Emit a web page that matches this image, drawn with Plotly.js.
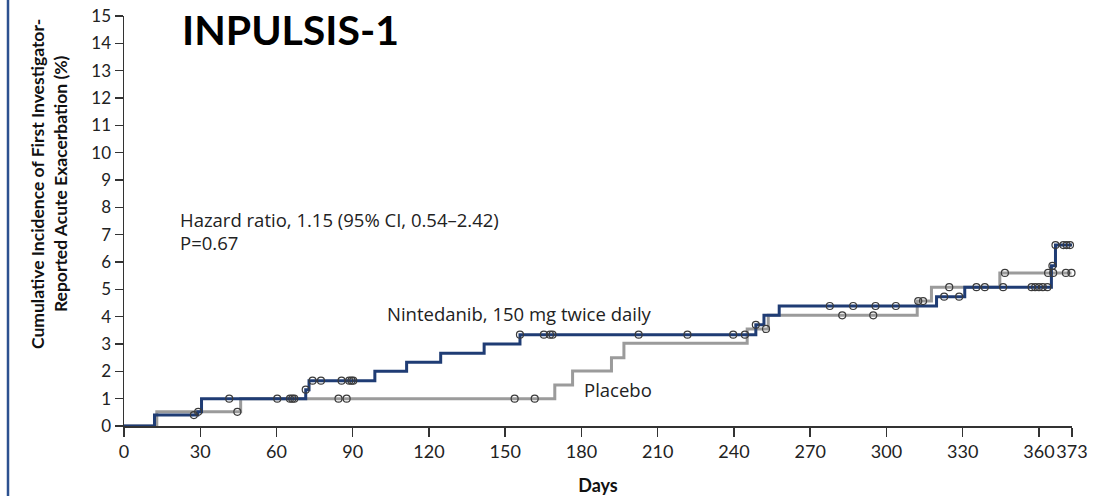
<!DOCTYPE html>
<html>
<head>
<meta charset="utf-8">
<script src="https://cdn.plot.ly/plotly-3.0.1.min.js"></script>
<style>
  html, body { margin: 0; padding: 0; background: #fff; }
  #chart { width: 1095px; height: 496px; }
</style>
</head>
<body>
<div id="chart"></div>
<script>
// Kaplan-Meier style cumulative incidence, INPULSIS-1
const nintedanibDays   = [0, 12, 29, 30.5, 71.5, 72.8, 98.7, 111.2, 124.6, 141.7, 155.8, 248.6, 251.8, 257.8, 319.7, 330.8, 364.9, 366.5, 373.6];
const nintedanibPct    = [0, 0.4, 0.52, 1.0, 1.33, 1.66, 2.0, 2.33, 2.66, 3.0, 3.34, 3.7, 4.05, 4.39, 4.73, 5.08, 5.86, 6.62, 6.62];
const placeboDays      = [0, 12.9, 45.9, 169.5, 176.5, 191.8, 196.7, 245.2, 253.5, 312.1, 317.7, 344.6, 372.8];
const placeboPct       = [0, 0.52, 1.0, 1.5, 2.01, 2.5, 3.03, 3.55, 4.05, 4.57, 5.08, 5.6, 5.6];

// censored observations
const nintedanibCensorDays = [27.5, 29.2, 41.4, 60.3, 65.3, 66.2, 67, 71.5, 74.2, 77.5, 85.6, 88.6, 89.5, 90.2,
  155.8, 165.2, 167.6, 168.6, 202.5, 221.7, 239.7, 244.3, 248.6, 277.7, 286.9, 295.7, 303.7,
  322.7, 328.6, 335.4, 338.7, 345.9, 357.1, 358.5, 360, 361.5, 363.3, 365.3, 366.5, 369.6, 370.9, 372.2, 373.6];
const nintedanibCensorPct  = [0.4, 0.52, 1.0, 1.0, 1.0, 1.0, 1.0, 1.33, 1.66, 1.66, 1.66, 1.66, 1.66, 1.66,
  3.34, 3.34, 3.34, 3.34, 3.34, 3.34, 3.34, 3.34, 3.7, 4.39, 4.39, 4.39, 4.39,
  4.73, 4.73, 5.08, 5.08, 5.08, 5.08, 5.08, 5.08, 5.08, 5.08, 5.86, 6.62, 6.62, 6.62, 6.62, 6.62];
const placeboCensorDays = [44.6, 84.4, 87.6, 153.7, 161.6, 252.6, 282.6, 294.8, 312.5, 314.4, 324.7, 346.6, 363.6, 365.6, 370.6, 372.8];
const placeboCensorPct  = [0.52, 1.0, 1.0, 1.0, 1.0, 3.55, 4.05, 4.05, 4.57, 4.57, 5.08, 5.6, 5.6, 5.6, 5.6, 5.6];

const xTicks = [0, 30, 60, 90, 120, 150, 180, 210, 240, 270, 300, 330, 360, 373];
const yTicks = [0, 1, 2, 3, 4, 5, 6, 7, 8, 9, 10, 11, 12, 13, 14, 15];

const BLUE = '#1f3c74';
const GREY = '#9b9b9b';
const TICK_FONT = 'Lato, "Open Sans", sans-serif';
const LABEL_FONT = '"Open Sans", Lato, sans-serif';

const censorMarker = {
  symbol: 'circle-open', size: 7, color: '#3a3a3a', line: { width: 1.2, color: '#3a3a3a' }
};

const traces = [
  { x: placeboDays, y: placeboPct, type: 'scatter', mode: 'lines', line: { shape: 'hv', color: GREY, width: 3 },
    name: 'Placebo', hoverinfo: 'x+y' },
  { x: nintedanibDays, y: nintedanibPct, type: 'scatter', mode: 'lines', line: { shape: 'hv', color: BLUE, width: 3 },
    name: 'Nintedanib', hoverinfo: 'x+y' },
  { x: placeboCensorDays, y: placeboCensorPct, type: 'scatter', mode: 'markers', marker: censorMarker,
    cliponaxis: false, name: 'Placebo censored' },
  { x: nintedanibCensorDays, y: nintedanibCensorPct, type: 'scatter', mode: 'markers', marker: censorMarker,
    cliponaxis: false, name: 'Nintedanib censored' }
];

const noteFont = { family: LABEL_FONT, size: 18.5, color: '#222' };

const layout = {
  width: 1095, height: 496,
  margin: { l: 124, r: 23, t: 16, b: 70 },
  paper_bgcolor: '#ffffff', plot_bgcolor: '#ffffff',
  showlegend: false,
  font: { family: TICK_FONT, color: '#222', size: 16 },
  xaxis: {
    range: [0, 373], tickvals: xTicks, ticktext: xTicks.map(String), tickangle: 0,
    showgrid: false, zeroline: false, showline: true, linecolor: '#333', linewidth: 1.5,
    ticks: 'outside', ticklen: 9, tickwidth: 1.5, tickcolor: '#333',
    tickfont: { family: TICK_FONT, size: 18, color: '#222' },
    title: { text: '<b>Days</b>', font: { family: TICK_FONT, size: 18, color: '#111' }, standoff: 18 }
  },
  yaxis: {
    range: [0, 15], tickvals: yTicks,
    showgrid: false, zeroline: false, showline: true, linecolor: '#333', linewidth: 1.5,
    ticks: 'outside', ticklen: 8, tickwidth: 1.5, tickcolor: '#333',
    tickfont: { family: TICK_FONT, size: 17, color: '#222' }
  },
  annotations: [
    { text: '<b>INPULSIS-1</b>', xref: 'paper', yref: 'paper', x: (180 - 124) / 948, y: (426 - 29) / 410,
      xanchor: 'left', yanchor: 'middle', showarrow: false,
      font: { family: TICK_FONT, size: 41, color: '#000' } },
    { text: '<b>Cumulative Incidence of First Investigator-<br>Reported Acute Exacerbation (%)</b>',
      xref: 'paper', yref: 'paper', x: (49 - 124) / 948, y: (426 - 184) / 410,
      xanchor: 'center', yanchor: 'middle', textangle: -90, showarrow: false,
      font: { family: TICK_FONT, size: 17.5, color: '#111' } },
    { text: 'Hazard ratio, 1.15 (95% CI, 0.54\u20132.42)', x: 21.2, y: 7.54, xref: 'x', yref: 'y',
      xanchor: 'left', yanchor: 'middle', showarrow: false, font: noteFont },
    { text: 'P=0.67', x: 21.2, y: 6.7, xref: 'x', yref: 'y',
      xanchor: 'left', yanchor: 'middle', showarrow: false, font: noteFont },
    { text: 'Nintedanib, 150 mg twice daily', x: 102.7, y: 4.13, xref: 'x', yref: 'y',
      xanchor: 'left', yanchor: 'middle', showarrow: false, font: noteFont },
    { text: 'Placebo', x: 180.2, y: 1.32, xref: 'x', yref: 'y',
      xanchor: 'left', yanchor: 'middle', showarrow: false, font: noteFont }
  ],
  shapes: [
    { type: 'line', xref: 'paper', yref: 'paper',
      x0: (8 - 124) / 948, x1: (8 - 124) / 948, y0: (426 - 496) / 410, y1: 426 / 410,
      line: { color: '#2c5190', width: 2.5 } }
  ]
};

Plotly.newPlot('chart', traces, layout, { displayModeBar: false, staticPlot: true });
</script>
</body>
</html>
